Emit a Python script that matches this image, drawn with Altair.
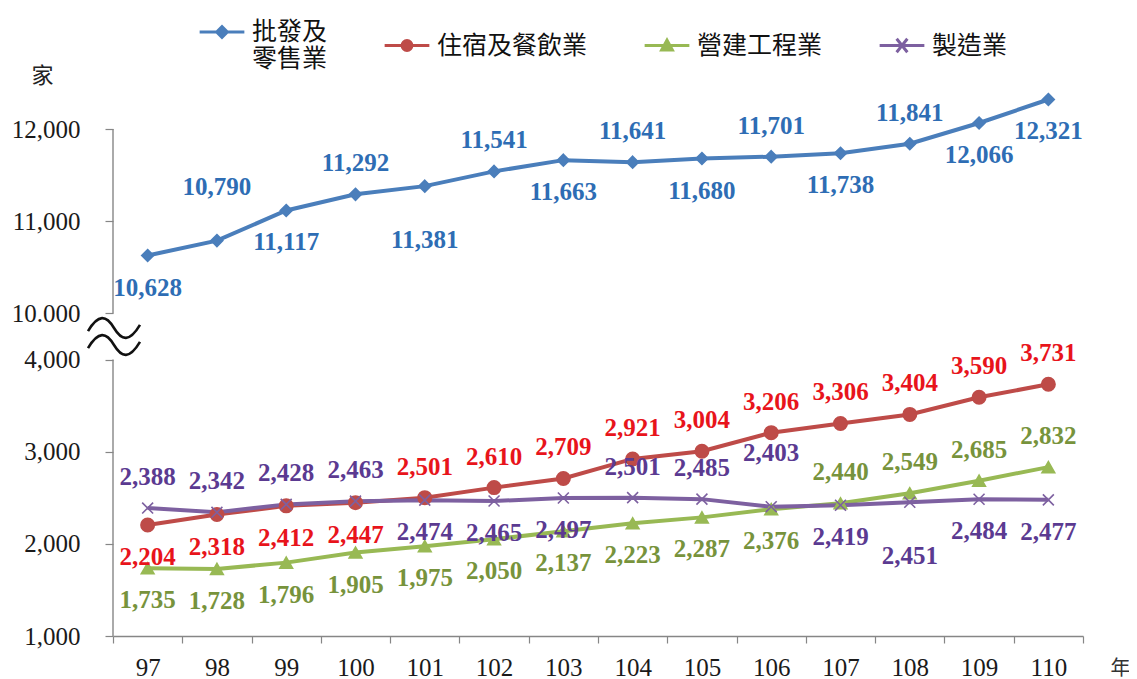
import altair as alt
import pandas as pd

# ---------------- data ----------------
YEARS = ["97", "98", "99", "100", "101", "102", "103", "104", "105", "106", "107", "108", "109", "110"]
SERIES = ["批發及零售業", "住宿及餐飲業", "營建工程業", "製造業"]

WHOLESALE = [10628, 10790, 11117, 11292, 11381, 11541, 11663, 11641, 11680, 11701, 11738, 11841, 12066, 12321]
HOSPITALITY = [2204, 2318, 2412, 2447, 2501, 2610, 2709, 2921, 3004, 3206, 3306, 3404, 3590, 3731]
CONSTRUCTION = [1735, 1728, 1796, 1905, 1975, 2050, 2137, 2223, 2287, 2376, 2440, 2549, 2685, 2832]
MANUFACTURING = [2388, 2342, 2428, 2463, 2474, 2465, 2497, 2501, 2485, 2403, 2419, 2451, 2484, 2477]

# where each data label sits (1 above, 2 far above, -1 below, -2 far below)
SIDE_WHOLESALE = [-1, 2, -1, 1, -2, 1, -1, 1, -1, 1, -1, 1, -1, -1]
SIDE_HOSPITALITY = [-1, -1, -1, -1, 1, 1, 1, 1, 1, 1, 1, 1, 1, 1]
SIDE_CONSTRUCTION = [-1, -1, -1, -1, -1, -1, -1, -1, -1, -1, 1, 1, 1, 1]
SIDE_MANUFACTURING = [1, 1, 1, 1, -1, -1, -1, 1, 1, 2, -1, -2, -1, -1]

Y_TICKS = [1000, 2000, 3000, 4000, 10000, 11000, 12000]
Y_TICK_LABELS = ["1,000", "2,000", "3,000", "4,000", "10.000", "11,000", "12,000"]
AXIS_SEGMENTS_LO = [1000, 10000]
AXIS_SEGMENTS_HI = [4000, 12000]

# ---------------- styles ----------------
BREAK_SHIFT = 5500  # values >= 10000 are moved down by this amount (axis break)
LINE_COLORS = ["#4A7EBB", "#BE4B48", "#98B954", "#7D60A0"]
LABEL_COLORS = ["#2E6DB4", "#E8141B", "#77933C", "#5B3A91"]
MARKERS = ["M0,-1L1,0L0,1L-1,0Z", "circle", "triangle-up", "M-1,-1L1,1M-1,1L1,-1"]
MARKER_SIZES = [140, 180, 160, 120]
LEGEND_PATHS = [
    "M-1,0H1M-0.24,0L0,-0.24L0.24,0L0,0.24Z",
    "M-1,0H1M-0.22,0A0.22,0.22,0,1,0,0.22,0A0.22,0.22,0,1,0,-0.22,0Z",
    "M-1,0H1M-0.24,0.2L0,-0.24L0.24,0.2Z",
    "M-1,0H1M-0.24,-0.3L0.24,0.3M-0.24,0.3L0.24,-0.3",
]
WAVE_PATH = "M-1,0.12C-0.6,-0.55,-0.3,-0.5,0,0C0.3,0.5,0.6,0.55,1,-0.12"

SERIF = "Liberation Serif"
CJK = "Noto Sans CJK TC"
AXIS_GRAY = "#868686"

W, H = 970, 553

# ---------------- table ----------------
values = [WHOLESALE, HOSPITALITY, CONSTRUCTION, MANUFACTURING]
sides = [SIDE_WHOLESALE, SIDE_HOSPITALITY, SIDE_CONSTRUCTION, SIDE_MANUFACTURING]
rows = []
for i, s in enumerate(SERIES):
    for j, y in enumerate(YEARS):
        rows.append({
            "year": y, "series": s, "value": values[i][j], "side": sides[i][j],
            "order": i,
            "line_color": LINE_COLORS[i], "label_color": LABEL_COLORS[i],
            "marker": MARKERS[i], "msize": MARKER_SIZES[i],
        })
df = pd.DataFrame(rows)

seg_df = pd.DataFrame({"lo": AXIS_SEGMENTS_LO, "hi": AXIS_SEGMENTS_HI})

shift_expr = f"datum.value >= 10000 ? datum.value - {BREAK_SHIFT} : datum.value"
tick_t = [v - BREAK_SHIFT if v >= 10000 else v for v in Y_TICKS]
label_expr = "''"
for tv, lab in zip(tick_t, Y_TICK_LABELS):
    label_expr = f"datum.value == {tv} ? '{lab}' : ({label_expr})"

y_axis = alt.Axis(
    values=tick_t, labelExpr=label_expr, grid=False, domain=False,
    tickSize=8, tickColor=AXIS_GRAY, tickWidth=1.2,
    labelFont=SERIF, labelFontSize=25, labelColor="#1a1a1a", labelPadding=25,
    title="家", titleAngle=0, titleX=-71, titleY=-8, titleAlign="center",
    titleBaseline="middle", titleFont=CJK, titleFontSize=22, titleFontWeight="normal",
    titleColor="#222222",
)
y_scale = alt.Scale(domain=[1000, 7000], nice=False, zero=False)


def y_enc(field):
    return alt.Y(f"{field}:Q", scale=y_scale, axis=y_axis)


x_enc = alt.X(
    "year:O", sort=YEARS, bandPosition=0.5,
    scale=alt.Scale(type="band", paddingInner=0, paddingOuter=0),
    axis=alt.Axis(
        labelAngle=0, labelFont=SERIF, labelFontSize=25, labelColor="#1a1a1a",
        labelBaseline="middle", labelPadding=24,
        tickBand="extent", tickSize=7, tickColor=AXIS_GRAY, tickWidth=1.2,
        domainColor=AXIS_GRAY, domainWidth=1.4, grid=False,
        title="年", titleX=1007, titleY=32, titleAngle=0, titleAlign="center",
        titleBaseline="middle", titleFont=CJK, titleFontSize=20,
        titleFontWeight="normal", titleColor="#333333",
    ),
)

base = alt.Chart(df).transform_calculate(t=shift_expr)

axis_rules = alt.Chart(seg_df).transform_calculate(
    lo_t=f"datum.lo >= 10000 ? datum.lo - {BREAK_SHIFT} : datum.lo",
    hi_t=f"datum.hi >= 10000 ? datum.hi - {BREAK_SHIFT} : datum.hi",
).mark_rule(color=AXIS_GRAY, strokeWidth=1.4).encode(
    x=alt.value(0), y=y_enc("lo_t"), y2="hi_t:Q"
)

lines = base.mark_line(strokeWidth=4).encode(
    x=x_enc, y=y_enc("t"), detail="series:N",
    color=alt.Color("line_color:N", scale=None),
    order=alt.Order("order:Q"),
)

points = base.mark_point(filled=False, strokeWidth=1.6, opacity=1).encode(
    x=x_enc, y=y_enc("t"),
    color=alt.Color("line_color:N", scale=None),
    fill=alt.Fill("line_color:N", scale=None),
    shape=alt.Shape("marker:N", scale=None),
    size=alt.Size("msize:Q", scale=None),
)

label_font = dict(font=SERIF, fontSize=25, fontWeight="bold", baseline="middle")


def label_layer(cond, dy):
    return base.transform_filter(cond).mark_text(dy=dy, **label_font).encode(
        x=x_enc, y=y_enc("t"), text=alt.Text("value:Q", format=","),
        color=alt.Color("label_color:N", scale=None),
    )


labels = [
    label_layer("datum.side == 1", -31),
    label_layer("datum.side == 2", -54),
    label_layer("datum.side == -1", 32),
    label_layer("datum.side == -2", 54),
]

one = pd.DataFrame({"k": [0]})


def wave(ypix):
    return alt.Chart(one).mark_point(
        shape=WAVE_PATH, size=2700, filled=False, stroke="#111111", strokeWidth=2.6, opacity=1
    ).encode(x=alt.value(1), y=alt.value(ypix))


legend = alt.Legend(
    title=None, orient="none", direction="horizontal", legendX=85, legendY=-75,
    symbolSize=2000, symbolStrokeWidth=3, symbolOpacity=1,
    labelFont=CJK, labelFontSize=25, labelColor="#111111", labelOffset=6,
    labelLimit=0, columnPadding=50, padding=0, labelBaseline="middle",
    labelExpr="datum.label == '批發及零售業' ? ['批發及', '零售業'] : datum.label",
)
legend_layer = alt.Chart(df).transform_filter("datum.value < 0").mark_point(filled=False).encode(
    stroke=alt.Stroke("series:N", scale=alt.Scale(domain=SERIES, range=LINE_COLORS), legend=legend),
    fill=alt.Fill("series:N", scale=alt.Scale(domain=SERIES, range=LINE_COLORS), legend=legend),
    shape=alt.Shape("series:N", scale=alt.Scale(domain=SERIES, range=LEGEND_PATHS), legend=legend),
)

chart = alt.layer(
    axis_rules, lines, points, *labels, wave(245), wave(262), legend_layer
).properties(
    width=W, height=H,
    autosize=alt.AutoSizeParams(type="none"),
    padding={"left": 105, "top": 75, "right": 46, "bottom": 43},
    background="white",
).configure_view(stroke=None)

chart.save("out.html", embed_options={"renderer": "svg", "actions": False})
